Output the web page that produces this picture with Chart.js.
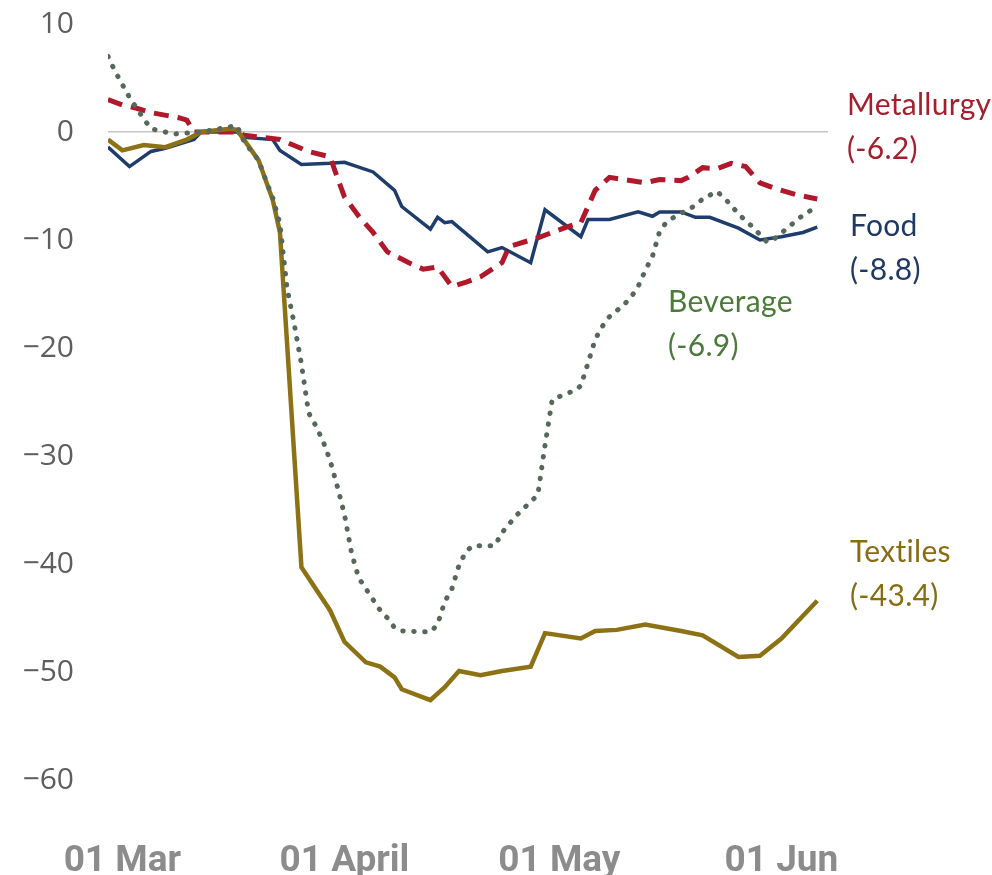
<!DOCTYPE html>
<html>
<head>
<meta charset="utf-8">
<script src="https://cdn.jsdelivr.net/npm/chart.js@4.4.1/dist/chart.umd.min.js"></script>
<style>
  html, body { margin: 0; padding: 0; background: #fff; }
  canvas { display: block; }
</style>
</head>
<body>
<canvas id="sectorChart" width="992" height="875"></canvas>
<script>
// x values are days counted from 1 March
const tickDays = [0, 31, 61, 92];
const tickLabels = ['01 Mar', '01 April', '01 May', '01 Jun'];

const seriesNames = ['Metallurgy', 'Food', 'Beverage', 'Textiles'];

const metalDays = [-2, 0, 2, 4, 8, 9, 10, 16, 17, 22, 26, 29, 30, 31, 33, 35, 37, 40, 42, 44, 46, 48, 50, 53, 54, 55, 58, 62, 64, 65, 66, 68, 72, 73, 75, 78, 79, 81, 83, 85, 87, 89, 91, 94, 97];
const metalValues = [3.0, 2.5, 2.2, 1.8, 1.3, 1.1, 0.0, 0.0, -0.3, -0.7, -1.8, -2.3, -4.2, -6.0, -7.8, -9.3, -11.1, -12.1, -12.7, -12.5, -14.3, -13.9, -13.4, -12.1, -10.6, -10.4, -9.8, -8.8, -8.4, -6.9, -5.4, -4.2, -4.6, -4.7, -4.4, -4.5, -4.2, -3.3, -3.4, -2.9, -3.2, -4.7, -5.2, -5.8, -6.2];

const foodDays = [-2, 1, 4, 6, 10, 11, 16, 17, 21, 22, 25, 29, 31, 35, 38, 39, 43, 44, 45, 46, 51, 53, 57, 59, 64, 65, 68, 72, 74, 75, 78, 80, 82, 86, 89, 92, 95, 97];
const foodValues = [-1.4, -3.2, -1.8, -1.5, -0.7, 0.0, 0.0, -0.5, -0.7, -1.7, -3.0, -2.9, -2.8, -3.7, -5.4, -6.9, -9.0, -7.9, -8.4, -8.3, -11.1, -10.7, -12.1, -7.2, -9.7, -8.1, -8.1, -7.4, -7.8, -7.4, -7.4, -7.9, -7.9, -8.9, -10.0, -9.7, -9.3, -8.8];

const bevDays = [-2, -1, 0, 1, 3, 4, 6, 7, 9, 11, 16, 17, 19, 20, 21, 22, 23, 24, 25, 26, 27, 28, 29, 30, 31, 32, 33, 34, 35, 36, 37, 38, 39, 43, 44, 45, 46, 47, 48, 49, 52, 53, 55, 58, 59, 60, 62, 63, 64, 65, 66, 67, 68, 70, 71, 72, 73, 74, 75, 76, 77, 80, 81, 83, 84, 85, 86, 88, 90, 91, 93, 95, 97];
const bevValues = [7.0, 5.6, 4.4, 3.2, 1.2, 0.3, 0.0, -0.2, -0.1, 0.0, 0.6, -0.9, -2.6, -4.4, -6.1, -8.5, -14.5, -17.8, -21.5, -26.0, -27.2, -28.6, -30.4, -32.8, -35.4, -39.0, -41.3, -42.3, -43.3, -44.3, -45.0, -45.9, -46.2, -46.3, -45.6, -43.5, -42.3, -40.1, -38.8, -38.3, -38.3, -37.1, -35.5, -33.6, -29.0, -24.8, -24.2, -24.0, -23.5, -21.4, -19.2, -18.0, -17.1, -16.0, -15.3, -14.3, -12.8, -11.5, -9.2, -8.3, -7.9, -6.8, -6.2, -5.5, -6.1, -6.8, -7.6, -8.8, -10.2, -9.9, -8.8, -7.7, -6.9];

const textileDays = [-2, 0, 3, 6, 9, 11, 15, 16, 19, 21, 22, 25, 29, 31, 34, 36, 38, 39, 43, 45, 47, 50, 53, 57, 59, 64, 66, 69, 73, 78, 81, 86, 89, 92, 97];
const textileValues = [-0.7, -1.7, -1.2, -1.4, -0.7, 0.0, 0.3, 0.2, -2.6, -6.3, -9.3, -40.3, -44.3, -47.2, -49.1, -49.5, -50.5, -51.6, -52.6, -51.4, -49.9, -50.3, -49.9, -49.5, -46.4, -46.9, -46.2, -46.1, -45.6, -46.2, -46.6, -48.6, -48.5, -46.9, -43.4];

function toPoints(days, values) {
  return days.map((d, i) => ({ x: d, y: values[i] }));
}

// end-of-line captions: name on one line, last value below it
const captions = [
  { name: seriesNames[0], values: metalValues, color: '#a51e2d', x: 847, y: 105 },
  { name: seriesNames[1], values: foodValues, color: '#1f3864', x: 850, y: 226 },
  { name: seriesNames[2], values: bevValues, color: '#4b7a3a', x: 668, y: 302 },
  { name: seriesNames[3], values: textileValues, color: '#876c12', x: 850, y: 552 }
];

const captionPlugin = {
  id: 'captions',
  afterDatasetsDraw(chart) {
    const ctx = chart.ctx;
    ctx.save();
    ctx.font = '30px Lato';
    ctx.letterSpacing = '0.3px'; // keeps "ti" from joining into a ligature
    ctx.textAlign = 'left';
    ctx.textBaseline = 'middle';
    captions.forEach(c => {
      const last = c.values[c.values.length - 1];
      ctx.fillStyle = c.color;
      ctx.fillText(c.name, c.x, c.y);
      ctx.fillText('(' + last.toFixed(1) + ')', c.x, c.y + 44);
    });
    ctx.restore();
  }
};

const ctx = document.getElementById('sectorChart').getContext('2d');
const chart = new Chart(ctx, {
  type: 'line',
  data: {
    datasets: [
      {
        label: seriesNames[2],
        data: toPoints(bevDays, bevValues),
        borderColor: '#56685a',
        borderWidth: 5,
        borderDash: [0.5, 10.5],
        borderCapStyle: 'round'
      },
      {
        label: seriesNames[3],
        data: toPoints(textileDays, textileValues),
        borderColor: '#8c7214',
        borderWidth: 4.5
      },
      {
        label: seriesNames[0],
        data: toPoints(metalDays, metalValues),
        borderColor: '#b0182b',
        borderWidth: 5,
        borderDash: [15, 9]
      },
      {
        label: seriesNames[1],
        data: toPoints(foodDays, foodValues),
        borderColor: '#1f3d6c',
        borderWidth: 3.5
      }
    ]
  },
  options: {
    responsive: false,
    animation: false,
    devicePixelRatio: 1,
    layout: {
      padding: { left: 22, right: 164, top: 24, bottom: 0 }
    },
    elements: {
      point: { radius: 0 },
      line: { tension: 0, fill: false }
    },
    plugins: {
      legend: { display: false },
      tooltip: { enabled: false }
    },
    scales: {
      x: {
        type: 'linear',
        min: -2,
        max: 98.5,
        afterFit: scale => {
          scale.height = 95;
          scale.paddingLeft = 0;
          scale.paddingRight = 0;
        },
        afterBuildTicks: axis => { axis.ticks = tickDays.map(v => ({ value: v })); },
        grid: { display: false },
        border: { display: false },
        ticks: {
          autoSkip: false,
          maxRotation: 0,
          padding: 52,
          color: '#8c8c8c',
          font: { family: 'Roboto', size: 37, weight: 'bold' },
          callback: value => tickLabels[tickDays.indexOf(value)]
        }
      },
      y: {
        min: -60,
        max: 10,
        afterFit: scale => {
          scale.width = 86;
          scale.paddingTop = 0;
          scale.paddingBottom = 0;
        },
        grid: {
          drawTicks: false,
          lineWidth: 1.5,
          color: c => (c.tick && c.tick.value === 0 ? '#c4c4c4' : 'rgba(0,0,0,0)')
        },
        border: { display: false },
        ticks: {
          stepSize: 10,
          padding: 34,
          color: '#5e5e5e',
          font: { family: '"Open Sans"', size: 30 },
          callback: value => String(value).replace('-', '\u2212')
        }
      }
    }
  },
  plugins: [captionPlugin]
});
</script>
</body>
</html>
